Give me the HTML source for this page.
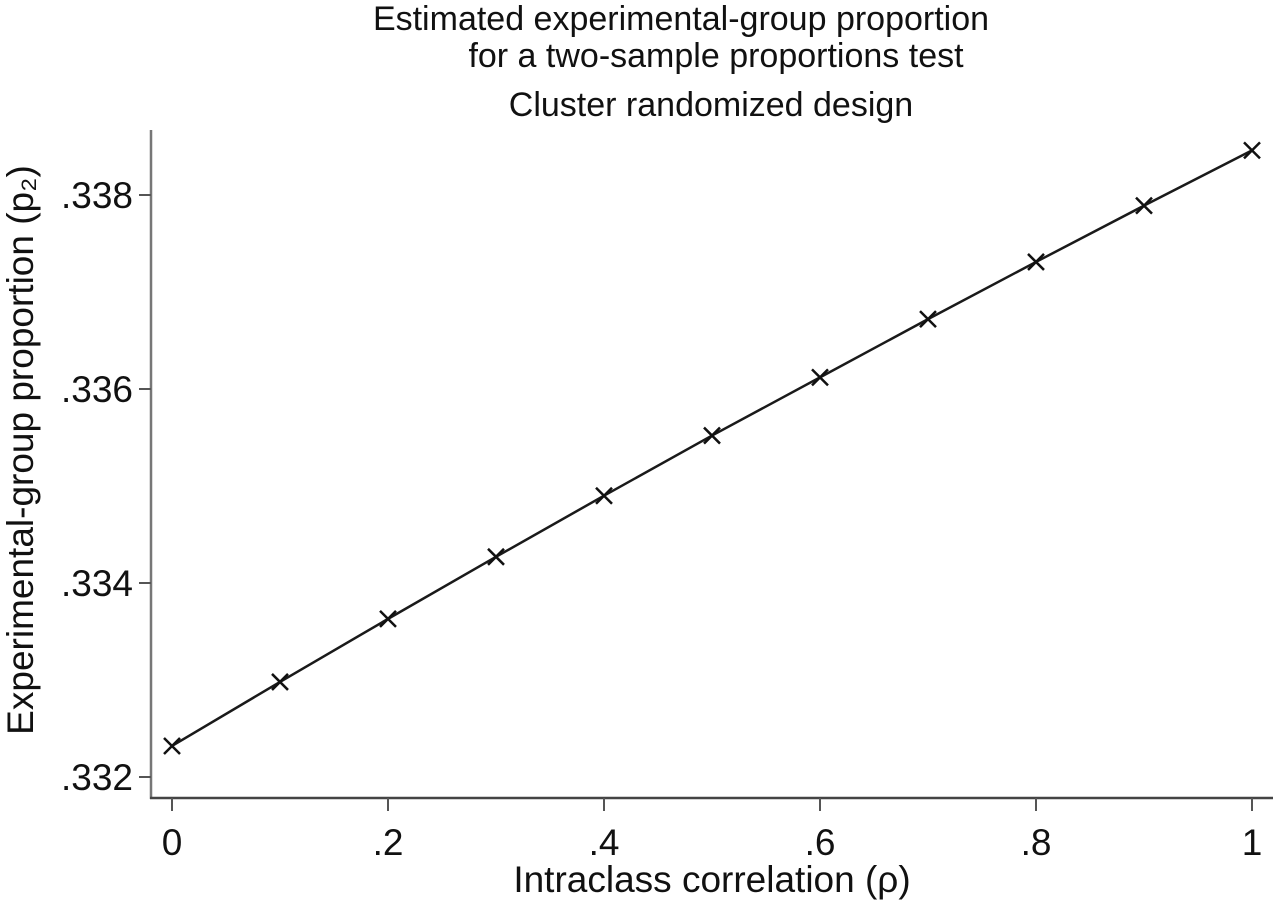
<!DOCTYPE html>
<html><head><meta charset="utf-8"><style>
html,body{margin:0;padding:0;background:#fff;}
svg text{font-family:"Liberation Sans",Arial,sans-serif;fill:#111;}
</style></head><body>
<svg id="chart" width="1280" height="903" xmlns="http://www.w3.org/2000/svg">
<text x="681" y="30" font-size="34" text-anchor="middle">Estimated experimental-group proportion</text>
<text x="716" y="67" font-size="34" text-anchor="middle">for a two-sample proportions test</text>
<text x="711" y="116" font-size="34" text-anchor="middle">Cluster randomized design</text>
<line x1="151" y1="130" x2="151" y2="799" stroke="#777" stroke-width="2.5"/>
<line x1="150" y1="798" x2="1273" y2="798" stroke="#444" stroke-width="2.5"/>
<text transform="translate(33,450) rotate(-90)" font-size="37" text-anchor="middle">Experimental-group proportion (p₂)</text>
<text x="712" y="892" font-size="37" text-anchor="middle">Intraclass correlation (ρ)</text>
<g id="yticks"></g><g id="xticks"></g><g id="series"></g>
</svg>
<script>
const xValues=[0,0.1,0.2,0.3,0.4,0.5,0.6,0.7,0.8,0.9,1];
const p2Values=[0.33232,0.33298,0.33363,0.33427,0.3349,0.33552,0.33612,0.33672,0.33731,0.33789,0.33846];
const xTicks=[0,0.2,0.4,0.6,0.8,1];
const xTickLabels=["0",".2",".4",".6",".8","1"];
const yTicks=[0.332,0.334,0.336,0.338];
const yTickLabels=[".332",".334",".336",".338"];
const NS="http://www.w3.org/2000/svg";
function sx(v){return 172+v*1080;}
function sy(v){return 777-(v-0.332)*97000;}
function mk(tag,attrs,parent){const e=document.createElementNS(NS,tag);for(const k in attrs)e.setAttribute(k,attrs[k]);parent.appendChild(e);return e;}
const yt=document.getElementById('yticks'),xt=document.getElementById('xticks'),sg=document.getElementById('series');
yTicks.forEach((v,i)=>{
 const l=mk('line',{x1:139,x2:151,y1:sy(v),y2:sy(v),stroke:'#555','stroke-width':2},yt);
 
 
 const t=mk('text',{x:133,y:sy(v)+13,'font-size':37,'text-anchor':'end'},yt);
 t.textContent=yTickLabels[i];
 
 
});
xTicks.forEach((v,i)=>{
 const l=mk('line',{x1:sx(v),x2:sx(v),y1:798,y2:811,stroke:'#555','stroke-width':2},xt);
 
 
 const t=mk('text',{x:sx(v),y:855,'font-size':37,'text-anchor':'middle'},xt);
 t.textContent=xTickLabels[i];
 
 
});
const pts=xValues.map((x,i)=>sx(x)+','+sy(p2Values[i])).join(' ');
const pl=mk('polyline',{points:pts,fill:'none',stroke:'#1a1a1a','stroke-width':2.5},sg);


xValues.forEach((x,i)=>{
 const cx=sx(x),cy=sy(p2Values[i]),r=8;
 const p=mk('path',{d:`M${cx-r},${cy-r}L${cx+r},${cy+r}M${cx-r},${cy+r}L${cx+r},${cy-r}`,stroke:'#111','stroke-width':2.5,fill:'none'},sg);
 
 
});
</script>
</body></html>
